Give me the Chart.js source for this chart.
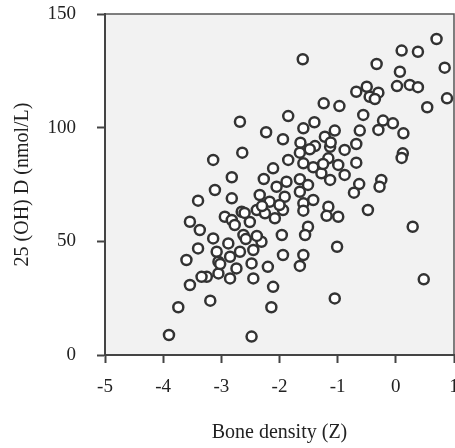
<!DOCTYPE html>
<html>
<head>
<meta charset="utf-8">
<script src="https://cdn.jsdelivr.net/npm/chart.js@4.4.1/dist/chart.umd.min.js"></script>
<style>
    html, body { margin: 0; padding: 0; background: #fff; }
    #wrap { width: 455px; height: 448px; }
</style>
</head>
<body>
<div id="wrap"><canvas id="chart" width="455" height="448"></canvas></div>
<script>
// 坐标轴刻度
const xTicks = [-5, -4, -3, -2, -1, 0, 1];
const yTicks = [0, 50, 100, 150];

// 散点数据：骨密度 (Z) 与 25(OH)D (nmol/L)
const boneDensity = [
    0.70, 0.10, 0.38, -0.33, 0.84, 0.07, 0.02, 0.24, 0.38, -0.68,
    -0.50, -0.45, -0.30, -0.36, 0.88, 0.54, -0.56, -0.22, -0.05, 0.13,
    -0.30, -0.62, -0.68, 0.12, 0.10, -0.68, -0.25, -0.28, -0.63, -0.72,
    -0.48, 0.29, 0.48, -1.60, -1.24, -0.97, -1.85, -1.59, -1.40, -2.23,
    -1.94, -1.64, -1.39, -1.22, -1.05, -1.13, -0.88, -1.65, -1.85, -1.59,
    -1.42, -1.16, -0.99, -2.11, -2.27, -1.88, -1.65, -1.28, -1.13, -0.88,
    -1.51, -2.05, -2.34, -1.91, -1.65, -2.17, -2.39, -1.94, -1.59, -1.42,
    -1.59, -1.16, -1.19, -0.99, -2.08, -2.25, -1.96, -1.51, -1.56, -2.31,
    -2.45, -1.01, -1.94, -1.59, -1.65, -2.20, -2.48, -2.11, -2.45, -3.11,
    -3.40, -2.82, -3.54, -3.37, -2.94, -2.82, -2.65, -2.77, -2.51, -2.62,
    -3.14, -3.40, -3.60, -2.88, -3.08, -3.05, -2.85, -2.68, -2.74, -3.05,
    -3.25, -3.34, -2.85, -3.54, -2.39, -2.68, -2.64, -3.14, -2.82, -3.74,
    -3.19, -3.90, -2.48, -2.14, -1.05, -2.60, -2.58, -3.02, -2.30, -1.48,
    -1.12, -1.25, -2.00
];
const vitaminD = [
    139.0, 133.9, 133.4, 128.0, 126.4, 124.6, 118.3, 118.8, 117.8, 115.8,
    118.0, 113.6, 115.4, 112.6, 112.9, 109.0, 105.6, 103.1, 101.9, 97.5,
    99.0, 98.7, 92.8, 88.7, 86.7, 84.6, 77.0, 74.0, 75.2, 71.4,
    63.8, 56.4, 33.3, 130.1, 110.7, 109.5, 105.1, 99.7, 102.4, 98.0,
    94.9, 93.4, 91.9, 96.0, 98.7, 91.6, 90.2, 89.0, 85.8, 84.3,
    82.6, 86.5, 83.6, 82.1, 77.4, 76.2, 77.3, 79.9, 77.0, 79.2,
    74.8, 74.0, 70.4, 69.6, 71.8, 67.4, 63.8, 63.8, 66.7, 68.2,
    63.5, 65.2, 61.2, 60.8, 60.1, 62.3, 52.8, 56.4, 52.8, 49.8,
    46.2, 47.6, 44.0, 44.0, 39.2, 38.8, 40.3, 30.0, 33.7, 72.6,
    67.9, 68.9, 58.6, 55.0, 60.8, 59.4, 63.0, 57.2, 58.5, 52.8,
    51.3, 46.9, 41.8, 49.1, 45.4, 41.0, 43.2, 45.4, 38.1, 35.9,
    34.4, 34.4, 33.7, 30.8, 52.4, 102.6, 89.0, 85.8, 78.2, 21.0,
    23.9, 8.8, 8.1, 21.0, 24.9, 62.5, 51.0, 40.0, 65.5, 90.5,
    93.5, 84.0, 66.0
];

const points = boneDensity.map((x, i) => ({ x: x, y: vitaminD[i] }));

const FONT_FAMILY = "'Liberation Serif', 'Times New Roman', serif";
const AXIS_COLOR = '#444';

// 绘图区灰色背景和上/右边框
const plotFrame = {
    id: 'plotFrame',
    beforeDraw(chart) {
        const { ctx, chartArea: a } = chart;
        ctx.save();
        ctx.fillStyle = '#f2f2f2';
        ctx.fillRect(a.left, a.top, a.right - a.left, a.bottom - a.top);
        ctx.strokeStyle = '#555';
        ctx.lineWidth = 1.5;
        ctx.beginPath();
        ctx.moveTo(a.left, a.top);
        ctx.lineTo(a.right, a.top);
        ctx.lineTo(a.right, a.bottom);
        ctx.stroke();
        ctx.restore();
    },
};

function axisOptions(min, max, ticks, title) {
    return {
        type: 'linear',
        min: min,
        max: max,
        afterBuildTicks: scale => { scale.ticks = ticks.map(v => ({ value: v })); },
        ticks: {
            color: '#222',
            font: { family: FONT_FAMILY, size: 19 },
        },
        grid: {
            display: true,
            drawOnChartArea: false,
            drawTicks: true,
            tickLength: 8,
            tickColor: AXIS_COLOR,
            tickWidth: 2,
        },
        border: { color: AXIS_COLOR, width: 2 },
        title: {
            display: true,
            text: title,
            color: '#222',
            font: { family: FONT_FAMILY, size: 20 },
        },
    };
}

const xScale = axisOptions(-5, 1, xTicks, 'Bone density (Z)');
xScale.ticks.padding = 13;
xScale.title.padding = { top: 0, bottom: 3 };
xScale.afterFit = scale => {
    scale.height = 93;
    scale.paddingLeft = 0;
    scale.paddingRight = 0;
};

const yScale = axisOptions(0, 150, yTicks, '25 (OH) D (nmol/L)');
yScale.ticks.padding = 21;
yScale.title.padding = { top: 11, bottom: 0 };
yScale.afterFit = scale => {
    scale.width = 105;
    scale.paddingTop = 0;
    scale.paddingBottom = 0;
};

new Chart(document.getElementById('chart'), {
    type: 'scatter',
    data: {
        datasets: [{
            data: points,
            pointRadius: 5,
            pointHoverRadius: 5,
            pointBorderWidth: 2.5,
            borderColor: '#333333',
            backgroundColor: '#ffffff',
        }],
    },
    options: {
        responsive: false,
        animation: false,
        layout: { autoPadding: false, padding: { top: 14, right: 1, left: 0, bottom: 0 } },
        plugins: {
            legend: { display: false },
            tooltip: { enabled: false },
        },
        scales: { x: xScale, y: yScale },
    },
    plugins: [plotFrame],
});
</script>
</body>
</html>
